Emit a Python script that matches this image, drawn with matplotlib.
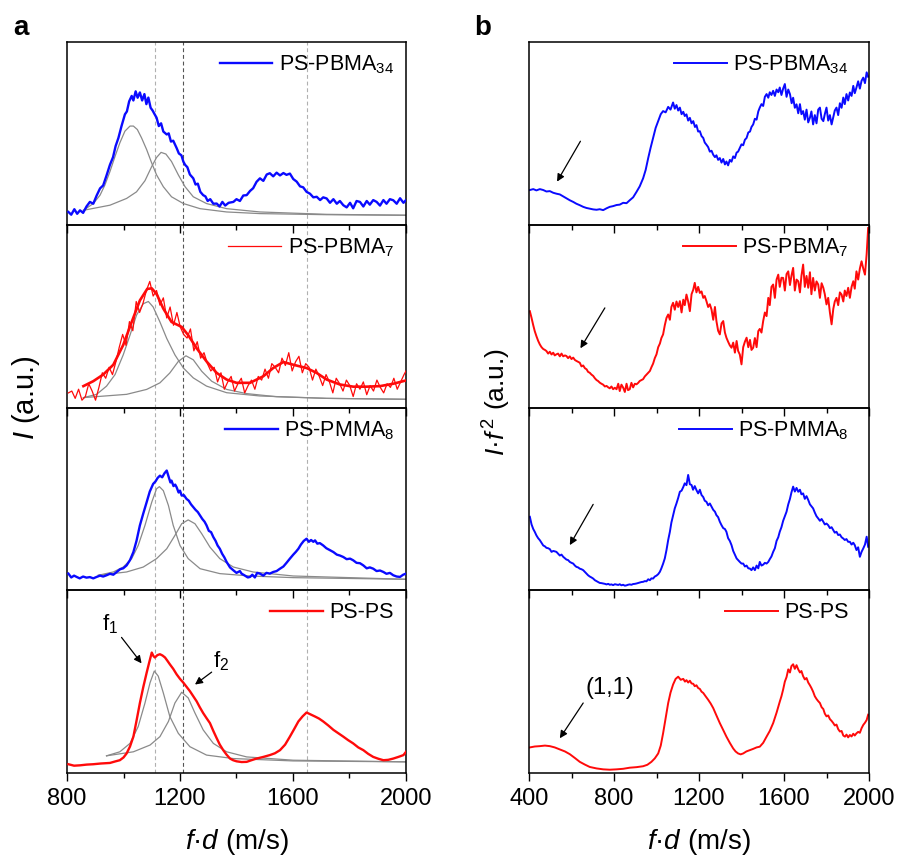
import matplotlib
matplotlib.use("Agg")
import matplotlib.pyplot as plt

plt.rcParams['font.family'] = ['Liberation Sans', 'DejaVu Sans']
plt.rcParams['mathtext.fontset'] = 'custom'
plt.rcParams['mathtext.rm'] = 'Liberation Sans'
plt.rcParams['mathtext.it'] = 'Liberation Sans:italic'
plt.rcParams['mathtext.bf'] = 'Liberation Sans:bold'

BLUE = '#0a0aff'
RED = '#ff0a0a'
GREY = '#8a8a8a'

# ---------------- (a) spectra I(f·d) with two-peak fits ----------------
labels_a = ['PS-PBMA$_{34}$', 'PS-PBMA$_{7}$', 'PS-PMMA$_{8}$', 'PS-PS']
colors_a = [BLUE, RED, BLUE, RED]
ref_lines = [1110, 1210, 1650]

# PS-PBMA34
a1_x = [805, 815, 826, 836, 846, 857, 869, 881, 893, 905, 917, 928, 940, 952, 963, 972, 982, 993, 1005, 1012,
        1020, 1029, 1035, 1043, 1050, 1058, 1066, 1074, 1081, 1088, 1096, 1103, 1110, 1117, 1125, 1133, 1141,
        1153, 1160, 1168, 1176, 1188, 1196, 1205, 1212, 1218, 1226, 1235, 1247, 1255, 1263, 1272, 1282, 1290,
        1298, 1307, 1318, 1330, 1340, 1350, 1360, 1372, 1389, 1400, 1412, 1424, 1436, 1448, 1459, 1471, 1483,
        1495, 1507, 1518, 1530, 1542, 1554, 1566, 1577, 1589, 1601, 1613, 1625, 1636, 1648, 1660, 1672, 1684,
        1696, 1707, 1719, 1731, 1743, 1755, 1766, 1778, 1790, 1802, 1813, 1825, 1837, 1849, 1861, 1872, 1884,
        1896, 1908, 1920, 1931, 1943, 1955, 1967, 1979, 1991, 2000]
a1_y = [7.0, 5.5, 8.5, 6.0, 7.9, 6.5, 10.0, 12.5, 11.5, 16.0, 19.9, 21.5, 27.0, 32.8, 37.0, 43.0, 47.5, 54.0, 60.4,
        62.0, 67.5, 70.5, 68.0, 73.0, 69.5, 72.4, 68.0, 71.5, 66.0, 69.6, 64.0, 62.5, 60.5, 58.6, 54.0, 55.5, 51.0,
        49.4, 50.0, 45.5, 46.0, 42.0, 39.0, 38.0, 34.5, 32.8, 31.5, 27.5, 25.4, 22.0, 22.5, 18.0, 16.2, 15.5, 13.0,
        14.0, 11.5, 11.6, 10.0, 12.5, 10.5, 12.0, 12.5, 14.0, 13.0, 16.0, 16.2, 18.5, 20.0, 23.5, 25.4, 24.0, 27.5,
        28.2, 26.5, 28.5, 27.0, 28.3, 27.3, 28.0, 25.0, 23.6, 21.0, 20.5, 18.0, 17.0, 15.0, 15.3, 13.5, 15.0, 14.4,
        12.0, 14.0, 11.5, 13.0, 10.7, 9.5, 12.0, 9.0, 13.0, 12.5, 10.0, 13.0, 11.0, 13.5, 12.5, 10.5, 13.5, 11.5,
        14.0, 13.4, 11.5, 14.5, 12.0, 13.5]
a1_f1_x = [858, 893, 917, 934, 952, 970, 987, 1005, 1023, 1035, 1049, 1064, 1082, 1100, 1117, 1141, 1170, 1212,
           1271, 1365, 1483, 1719, 2000]
a1_f1_y = [7.9, 11.6, 16.2, 21.7, 29.1, 37.4, 44.8, 51.2, 54.0, 54.0, 52.1, 47.5, 41.1, 33.7, 27.3, 20.8, 15.3,
           11.6, 8.8, 7.0, 6.1, 5.5, 5.2]
a1_f2_x = [858, 952, 1011, 1046, 1076, 1100, 1117, 1133, 1150, 1170, 1194, 1218, 1247, 1294, 1365, 1483, 1719, 2000]
a1_f2_y = [7.9, 10.7, 14.4, 18.0, 24.1, 31.9, 36.8, 39.6, 38.7, 34.6, 27.3, 20.8, 15.3, 11.6, 8.8, 7.0, 5.7, 5.2]

# PS-PBMA7: raw (thin) and smoothed (thick)
a2_raw_x = [805, 817, 829, 841, 853, 865, 877, 889, 901, 913, 925, 937, 949, 961, 973, 985, 997, 1009, 1021, 1033,
            1045, 1057, 1069, 1081, 1093, 1105, 1117, 1129, 1141, 1153, 1165, 1177, 1189, 1201, 1213, 1225, 1237,
            1249, 1261, 1273, 1285, 1297, 1309, 1321, 1333, 1345, 1357, 1369, 1381, 1393, 1405, 1417, 1429, 1441,
            1453, 1465, 1477, 1489, 1501, 1513, 1525, 1537, 1549, 1561, 1573, 1585, 1597, 1609, 1621, 1633, 1645,
            1657, 1669, 1681, 1693, 1705, 1717, 1729, 1741, 1753, 1765, 1777, 1789, 1801, 1813, 1825, 1837, 1849,
            1861, 1873, 1885, 1897, 1909, 1921, 1933, 1945, 1957, 1969, 1981, 1993, 2000]
a2_raw_y = [8, 9, 5, 10, 4, 6, 13, 9, 4, 11,
            19, 16, 22, 18, 25, 33, 40, 34, 47, 42,
            58, 52, 57, 64, 69, 61, 64, 56, 60, 49,
            55, 45, 52, 44, 40, 38, 43, 31, 36, 27,
            30, 24, 20, 22, 14, 19, 10, 14, 17, 9,
            13, 16, 8, 12, 15, 10, 17, 15, 21, 16,
            24, 22, 19, 27, 23, 30, 20, 25, 28, 19,
            24, 22, 15, 21, 17, 12, 18, 14, 8, 16,
            13, 9, 15, 12, 6, 13, 10, 14, 7, 12,
            9, 15, 11, 8, 13, 11, 16, 10, 14, 18,
            20]
a2_x = [858, 893, 928, 964, 999, 1029, 1058, 1084, 1100, 1117, 1141, 1170, 1206, 1229, 1259, 1294, 1330, 1365, 1400,
        1448, 1495, 1530, 1566, 1601, 1648, 1684, 1719, 1766, 1813, 1861, 1908, 1955, 2000]
a2_y = [11.7, 14.4, 18.0, 23.4, 34.2, 46.8, 58.6, 64.9, 65.2, 62.2, 54.1, 46.8, 44.1, 39.6, 32.4, 25.2, 18.9, 15.3,
        13.5, 13.5, 17.1, 21.6, 24.9, 23.4, 21.6, 18.9, 15.3, 12.6, 11.4, 11.4, 11.7, 13.0, 14.8]
a2_f1_x = [858, 905, 940, 970, 999, 1023, 1046, 1070, 1088, 1105, 1129, 1153, 1182, 1212, 1247, 1294, 1365, 1483, 1719,
           2000]
a2_f1_y = [5.4, 7.2, 11.7, 18.0, 28.8, 39.6, 50.5, 56.8, 58.0, 55.0, 46.8, 37.8, 28.8, 21.6, 16.2, 11.7, 8.1, 6.3, 5.0,
           4.5]
a2_f2_x = [858, 1011, 1082, 1129, 1164, 1194, 1221, 1247, 1277, 1312, 1365, 1436, 1542, 1719, 2000]
a2_f2_y = [5.4, 7.2, 9.9, 13.5, 18.9, 25.2, 28.3, 26.1, 19.8, 14.4, 9.9, 7.6, 5.9, 5.0, 4.5]

# PS-PMMA8
a3_x = [805, 815, 825, 834, 845, 857, 869, 881, 893, 905, 917, 928, 940, 952, 964, 976, 988, 999, 1011, 1023, 1035,
        1046, 1058, 1070, 1082, 1093, 1105, 1113, 1121, 1129, 1137, 1145, 1153, 1160, 1166, 1170, 1177, 1183, 1188,
        1195, 1200, 1206, 1214, 1223, 1231, 1239, 1247, 1255, 1263, 1271, 1279, 1287, 1294, 1302, 1310, 1318, 1326,
        1333, 1341, 1349, 1357, 1365, 1377, 1389, 1400, 1412, 1418, 1430, 1440, 1448, 1456, 1465, 1473, 1483, 1495,
        1506, 1518, 1530, 1542, 1554, 1566, 1577, 1589, 1601, 1610, 1619, 1628, 1638, 1648, 1656, 1664, 1672, 1678,
        1686, 1695, 1707, 1718, 1730, 1743, 1755, 1766, 1778, 1790, 1802, 1813, 1825, 1837, 1849, 1861, 1872, 1884,
        1896, 1908, 1920, 1931, 1943, 1955, 1967, 1979, 1990, 2000]
a3_y = [9.1, 7.0, 8.0, 7.3, 6.5, 7.5, 6.9, 7.2, 6.5, 7.3, 8.0, 7.5, 8.2, 9.0, 8.5, 10.0, 11.5, 12.0, 13.6, 16.5, 20.9,
        27.0, 35.5, 42.0, 48.2, 54.0, 58.2, 59.5, 61.5, 62.7, 61.8, 64.0, 65.5, 62.0, 59.0, 60.0, 57.0, 57.8, 56.4,
        53.5, 54.5, 51.8, 52.0, 50.0, 49.0, 47.0, 45.5, 44.0, 42.8, 40.9, 39.0, 37.5, 35.5, 32.5, 31.8, 29.1, 27.0,
        24.5, 22.7, 20.0, 18.0, 15.5, 12.5, 10.9, 9.5, 10.5, 9.1, 8.0, 7.0, 7.3, 8.5, 7.0, 9.5, 9.1, 8.0, 9.5, 9.1,
        10.0, 10.5, 11.8, 13.0, 15.0, 17.3, 19.5, 21.0, 22.7, 25.0, 27.0, 28.2, 26.5, 27.5, 26.5, 27.3, 25.5, 25.8,
        24.5, 23.0, 22.0, 20.9, 19.5, 19.0, 18.2, 17.0, 17.3, 16.4, 15.0, 14.8, 13.6, 12.0, 12.5, 11.8, 10.5, 10.8,
        10.0, 9.0, 9.5, 8.2, 7.5, 7.3, 8.5, 9.1]
a3_f1_x = [911, 964, 999, 1029, 1052, 1076, 1100, 1117, 1127, 1141, 1159, 1176, 1200, 1229, 1271, 1341, 1448, 1601,
           2000]
a3_f1_y = [8.2, 10.0, 12.7, 17.3, 24.5, 35.5, 48.2, 55.5, 56.7, 54.5, 46.4, 35.5, 24.5, 17.3, 11.8, 9.1, 7.8, 6.9, 6.0]
a3_f2_x = [911, 1011, 1070, 1117, 1153, 1182, 1206, 1229, 1253, 1277, 1306, 1341, 1389, 1459, 1601, 2000]
a3_f2_y = [8.2, 10.0, 12.7, 17.3, 22.7, 30.0, 36.4, 38.5, 36.4, 30.9, 23.6, 17.3, 12.7, 10.0, 7.8, 6.0]

# PS-PS
a4_x = [805, 825, 846, 870, 893, 920, 952, 970, 987, 1000, 1011, 1023, 1035, 1046, 1058, 1070, 1082, 1091, 1100,
        1106, 1111, 1120, 1129, 1138, 1147, 1155, 1164, 1176, 1188, 1200, 1212, 1224, 1235, 1247, 1259, 1270, 1282,
        1294, 1306, 1318, 1330, 1341, 1353, 1365, 1377, 1388, 1400, 1418, 1436, 1453, 1471, 1495, 1518, 1536, 1554,
        1572, 1589, 1604, 1619, 1634, 1648, 1663, 1678, 1692, 1707, 1725, 1743, 1760, 1778, 1795, 1813, 1831, 1849,
        1866, 1884, 1902, 1920, 1937, 1955, 1973, 1991, 2000]
a4_y = [4.8, 4.0, 4.2, 4.6, 4.8, 5.2, 5.5, 6.3, 7.0, 8.5, 10.7, 14.5, 19.9, 28.5, 38.3, 47.0, 54.9, 60.5, 65.9, 64.0,
        63.2, 64.5, 65.0, 64.3, 63.2, 61.5, 59.5, 57.0, 54.0, 51.5, 49.4, 47.0, 44.8, 42.0, 39.2, 36.0, 32.8, 30.0,
        27.3, 23.0, 19.0, 15.5, 12.5, 10.0, 7.9, 7.0, 6.4, 6.0, 6.1, 7.0, 7.9, 8.8, 9.8, 10.8, 12.5, 15.5, 19.9, 24.0,
        28.2, 31.0, 33.1, 32.0, 30.9, 29.8, 28.2, 26.0, 23.6, 21.8, 19.9, 18.0, 16.2, 14.0, 12.5, 10.5, 8.8, 7.8, 7.0,
        7.2, 7.9, 8.8, 9.8, 11.6]
a4_f1_x = [940, 987, 1023, 1052, 1076, 1094, 1109, 1123, 1141, 1164, 1194, 1235, 1294, 1389, 1601, 2000]
a4_f1_y = [9.4, 11.6, 16.2, 25.4, 38.3, 49.4, 55.8, 53.0, 43.8, 30.9, 21.7, 14.4, 9.8, 7.9, 6.6, 6.1]
a4_f2_x = [940, 1035, 1094, 1129, 1159, 1182, 1206, 1229, 1253, 1282, 1318, 1365, 1436, 1601, 2000]
a4_f2_y = [9.4, 11.6, 15.3, 19.9, 28.2, 38.3, 44.2, 41.1, 32.8, 23.6, 16.2, 11.6, 8.8, 7.0, 6.1]

# ---------------- (b) I·f² ----------------
labels_b = labels_a
colors_b = colors_a

b1_x = [404, 420, 435, 451, 467, 482, 498, 514, 529, 545, 561, 576, 592, 608, 623, 639, 655, 670, 686, 702, 718, 733,
        749, 765, 780, 796, 812, 827, 843, 859, 874, 890, 906, 921, 937, 949, 961, 972, 984, 996, 1008, 1020, 1031,
        1043, 1055, 1066, 1078, 1086, 1094, 1102, 1110, 1118, 1126, 1133, 1141, 1149, 1157, 1165, 1173, 1181, 1188,
        1196, 1204, 1212, 1220, 1227, 1235, 1243, 1251, 1259, 1267, 1275, 1282, 1290, 1298, 1306, 1314, 1322, 1329,
        1337, 1345, 1353, 1361, 1369, 1377, 1384, 1392, 1400, 1408, 1416, 1424, 1432, 1440, 1447, 1455, 1463, 1471,
        1479, 1486, 1494, 1502, 1510, 1518, 1526, 1533, 1541, 1549, 1557, 1565, 1573, 1580, 1588, 1596, 1604, 1612,
        1620, 1628, 1636, 1643, 1651, 1659, 1667, 1675, 1682, 1690, 1698, 1706, 1714, 1722, 1729, 1737, 1745, 1753,
        1761, 1769, 1777, 1785, 1792, 1800, 1808, 1816, 1824, 1832, 1839, 1847, 1855, 1863, 1871, 1879, 1886, 1894,
        1902, 1910, 1918, 1926, 1933, 1941, 1949, 1957, 1965, 1973, 1981, 1989, 1996]
b1_y = [19.0, 19.5, 18.8, 19.5, 19.0, 18.2, 18.4, 17.5, 17.0, 16.6, 15.5, 14.5, 13.4, 12.5, 11.5, 10.7, 9.8, 9.2, 8.8,
        8.4, 8.2, 8.5, 8.0, 9.0, 9.8, 10.2, 10.8, 11.0, 12.0, 11.8, 13.4, 15.0, 18.0, 21.0, 25.4, 30.0, 36.5, 42.0,
        47.5, 53.0, 56.7, 60.5, 62.2, 61.5, 64.5, 63.0, 66.9, 63.5, 65.5, 62.5, 64.1, 60.5, 61.8, 59.5, 60.4, 57.0,
        58.5, 55.5, 56.7, 53.5, 54.5, 51.0, 51.2, 48.5, 47.5, 45.0, 43.8, 42.5, 40.0, 40.5, 38.3, 37.0, 38.0, 35.5,
        36.5, 34.0, 36.0, 33.0, 34.6, 32.5, 35.5, 34.5, 37.4, 36.5, 39.5, 40.0, 42.0, 44.0, 43.5, 46.5, 47.5, 50.5,
        51.0, 53.5, 54.9, 58.0, 57.5, 62.0, 64.1, 66.0, 65.0, 70.0, 71.5, 69.5, 72.5, 71.0, 73.3, 70.5, 74.0, 72.5,
        75.1, 71.0, 74.5, 77.0, 70.0, 74.0, 71.5, 66.5, 69.5, 64.0, 65.9, 61.0, 66.0, 60.5, 62.2, 57.5, 63.0, 56.0,
        58.6, 62.0, 54.9, 60.0, 55.5, 63.0, 64.1, 58.0, 56.7, 60.5, 64.1, 57.0, 60.0, 54.9, 59.0, 62.5, 64.1, 60.0,
        66.5, 64.0, 69.6, 66.0, 71.5, 68.0, 72.4, 70.5, 76.0, 72.0, 75.1, 78.5, 74.5, 78.8, 80.5, 77.5, 83.4, 81.0]

b2_x = [404, 412, 420, 427, 435, 443, 451, 459, 467, 475, 482, 490, 498, 506, 514, 521, 529, 537, 545, 553, 561, 569,
        576, 584, 592, 600, 608, 616, 623, 631, 639, 647, 655, 663, 671, 678, 686, 694, 702, 710, 718, 725, 733, 741,
        749, 757, 765, 773, 780, 788, 796, 804, 812, 820, 827, 835, 843, 851, 859, 866, 874, 882, 890, 898, 906, 914,
        921, 929, 937, 945, 953, 961, 969, 976, 984, 992, 1000, 1008, 1016, 1023, 1031, 1039, 1047, 1055, 1063, 1070,
        1078, 1086, 1094, 1102, 1110, 1118, 1126, 1133, 1141, 1149, 1157, 1165, 1173, 1180, 1188, 1196, 1204, 1212,
        1220, 1227, 1235, 1243, 1251, 1259, 1267, 1275, 1282, 1290, 1298, 1306, 1314, 1322, 1329, 1337, 1345, 1353,
        1361, 1369, 1377, 1384, 1392, 1400, 1408, 1416, 1424, 1432, 1440, 1447, 1455, 1463, 1471, 1479, 1486, 1494,
        1502, 1510, 1518, 1526, 1533, 1541, 1549, 1557, 1565, 1573, 1580, 1588, 1596, 1604, 1612, 1620, 1628, 1635,
        1643, 1651, 1659, 1667, 1675, 1682, 1690, 1698, 1706, 1714, 1722, 1729, 1737, 1745, 1753, 1761, 1769, 1777,
        1785, 1792, 1800, 1808, 1816, 1824, 1832, 1839, 1847, 1855, 1863, 1871, 1879, 1886, 1894, 1902, 1910, 1918,
        1926, 1933, 1941, 1949, 1957, 1965, 1973, 1981, 1989, 1996]
b2_y = [52.7, 49.0, 45.0, 41.8, 39.0, 36.5, 34.5, 33.0, 32.0, 31.5, 30.9, 29.5, 30.5, 29.0, 30.0, 28.5, 29.1, 29.5,
        28.0, 29.5, 28.0, 28.5, 28.2, 27.0, 28.0, 26.5, 27.3, 26.0, 25.5, 25.0, 24.5, 22.5, 23.0, 21.5, 20.9, 19.5,
        19.0, 18.0, 17.3, 16.0, 15.0, 14.5, 13.6, 13.0, 12.5, 11.5, 11.8, 11.0, 10.5, 11.5, 10.0, 10.8, 10.0, 13.0,
        9.0, 12.5, 10.9, 8.5, 13.0, 9.5, 10.0, 13.5, 11.0, 13.0, 12.7, 13.5, 14.5, 15.0, 15.5, 17.0, 18.0, 19.0, 20.0,
        22.0, 24.0, 27.0, 29.1, 33.0, 35.0, 38.0, 40.0, 45.0, 49.0, 50.9, 48.0, 55.0, 57.3, 53.5, 58.0, 55.0, 58.2,
        52.0, 59.0, 56.0, 61.8, 58.0, 52.7, 62.0, 64.5, 68.2, 63.0, 66.0, 62.7, 63.5, 60.0, 61.0, 58.2, 55.0, 56.5,
        53.6, 48.0, 55.0, 47.3, 42.0, 40.0, 46.0, 47.3, 41.0, 38.2, 36.0, 34.0, 32.7, 35.5, 30.0, 36.4, 31.0, 29.0,
        23.6, 33.0, 36.0, 38.2, 33.0, 37.0, 31.5, 32.7, 38.0, 33.0, 41.8, 43.0, 41.0, 47.3, 52.0, 50.0, 60.0, 56.0,
        66.0, 67.3, 60.0, 70.0, 72.7, 66.0, 71.0, 70.9, 64.0, 73.0, 74.5, 67.0, 72.0, 76.4, 64.0, 70.0, 69.1, 63.0,
        72.0, 78.2, 66.0, 72.0, 65.5, 74.0, 62.0, 70.9, 64.0, 69.0, 67.3, 60.0, 68.0, 65.5, 62.0, 56.4, 60.0, 52.0,
        45.5, 54.0, 58.0, 60.0, 56.0, 63.0, 61.8, 58.0, 64.0, 61.0, 65.5, 60.0, 66.0, 69.1, 65.0, 74.5, 70.0, 76.0,
        80.0, 76.0, 72.7, 84.0, 98.2]

b3_x = [404, 412, 420, 427, 435, 443, 451, 459, 467, 475, 482, 490, 498, 506, 514, 521, 529, 537, 545, 553, 561, 569,
        576, 584, 592, 600, 608, 616, 623, 631, 639, 647, 655, 663, 671, 678, 686, 694, 702, 710, 718, 725, 733, 741,
        749, 757, 765, 773, 780, 788, 796, 804, 812, 820, 827, 835, 843, 851, 859, 866, 874, 882, 890, 898, 906, 914,
        921, 929, 937, 945, 953, 961, 969, 976, 984, 992, 1000, 1008, 1016, 1023, 1031, 1039, 1047, 1055, 1063, 1070,
        1078, 1086, 1094, 1102, 1110, 1118, 1126, 1133, 1141, 1149, 1157, 1165, 1172, 1180, 1188, 1196, 1204, 1212,
        1220, 1227, 1235, 1243, 1251, 1259, 1267, 1275, 1282, 1290, 1298, 1306, 1314, 1322, 1329, 1337, 1345, 1353,
        1361, 1369, 1377, 1384, 1392, 1400, 1408, 1416, 1424, 1432, 1439, 1447, 1455, 1463, 1471, 1479, 1486, 1494,
        1502, 1510, 1518, 1526, 1533, 1541, 1549, 1557, 1565, 1573, 1580, 1588, 1596, 1604, 1612, 1620, 1628, 1635,
        1643, 1651, 1659, 1667, 1675, 1682, 1690, 1698, 1706, 1714, 1722, 1729, 1737, 1745, 1753, 1761, 1769, 1777,
        1785, 1792, 1800, 1808, 1816, 1824, 1832, 1839, 1847, 1855, 1863, 1871, 1879, 1886, 1894, 1902, 1910, 1918,
        1926, 1933, 1941, 1949, 1957, 1965, 1973, 1981, 1989, 1996]
b3_y = [40.2, 36.0, 33.5, 32.0, 30.0, 28.5, 27.4, 26.0, 24.5, 24.0, 23.2, 23.0, 22.5, 21.0, 21.5, 21.3, 21.0, 20.0,
        19.0, 19.5, 18.3, 17.5, 16.8, 16.5, 15.5, 15.0, 14.6, 13.5, 12.8, 12.5, 11.8, 11.5, 11.0, 10.0, 9.0, 8.2, 7.5,
        7.0, 6.4, 5.5, 5.0, 4.5, 4.0, 3.9, 3.7, 3.5, 3.2, 3.5, 3.0, 3.2, 2.8, 3.3, 3.1, 2.9, 3.3, 2.7, 3.0, 2.5, 2.7,
        3.0, 3.2, 3.0, 3.4, 3.5, 3.7, 4.0, 4.2, 4.5, 4.6, 5.0, 4.9, 6.0, 5.5, 6.5, 6.4, 7.5, 8.0, 8.8, 10.1, 12.0,
        14.5, 17.4, 22.0, 27.5, 32.0, 37.0, 41.0, 44.8, 47.5, 50.5, 53.9, 54.5, 56.5, 58.5, 57.5, 63.1, 58.0, 57.6,
        55.0, 57.0, 54.8, 53.0, 55.0, 52.1, 51.0, 49.0, 48.4, 46.5, 47.5, 45.7, 44.0, 43.0, 41.1, 40.0, 37.5, 35.6,
        34.0, 33.5, 32.0, 28.5, 27.0, 24.7, 21.5, 19.5, 17.4, 16.5, 15.5, 14.6, 14.6, 13.0, 13.5, 12.0, 11.9, 11.0,
        12.5, 11.0, 13.5, 12.0, 15.5, 13.5, 14.0, 15.0, 14.6, 15.5, 17.0, 18.5, 21.0, 23.0, 27.0, 29.0, 32.0, 34.5,
        38.0, 40.5, 43.0, 47.0, 50.0, 53.5, 56.7, 54.0, 56.0, 53.9, 55.0, 52.5, 53.0, 50.0, 51.5, 49.4, 47.0, 46.0,
        44.8, 42.5, 40.5, 39.3, 38.0, 39.0, 37.5, 36.0, 36.5, 35.6, 34.0, 34.5, 32.9, 31.5, 32.0, 30.2, 30.5, 29.0,
        28.3, 27.5, 28.0, 26.5, 26.5, 25.0, 26.0, 24.7, 22.0, 23.5, 18.3, 21.0, 22.9, 25.0, 29.3, 23.8]

b4_x = [404, 427, 451, 475, 498, 521, 545, 569, 592, 616, 639, 663, 686, 718, 749, 780, 812, 843, 874, 906, 937, 957,
        976, 992, 1008, 1020, 1031, 1043, 1055, 1066, 1078, 1090, 1102, 1114, 1126, 1134, 1141, 1149, 1157, 1165,
        1173, 1180, 1188, 1196, 1204, 1212, 1220, 1231, 1243, 1255, 1267, 1282, 1298, 1314, 1329, 1345, 1361, 1372,
        1384, 1396, 1408, 1423, 1439, 1455, 1471, 1486, 1502, 1518, 1533, 1549, 1565, 1580, 1588, 1596, 1604, 1612,
        1620, 1628, 1635, 1643, 1651, 1659, 1667, 1675, 1682, 1690, 1698, 1706, 1714, 1722, 1729, 1737, 1745, 1753,
        1761, 1769, 1777, 1785, 1792, 1800, 1808, 1816, 1824, 1832, 1839, 1847, 1855, 1863, 1871, 1879, 1887, 1894,
        1902, 1910, 1918, 1926, 1933, 1941, 1949, 1957, 1965, 1973, 1981, 1989, 1996]
b4_y = [14.0, 14.5, 14.7, 15.0, 14.7, 14.0, 12.9, 11.8, 10.3, 8.2, 6.1, 4.6, 3.3, 2.5, 2.0, 1.8, 2.0, 2.3, 2.9, 3.2,
        3.7, 4.5,
        6.1, 8.0, 10.7, 15.0, 21.7, 30.0, 38.3, 44.0, 48.4, 51.5, 52.7, 51.0, 51.5, 50.0, 50.8, 49.5, 50.5, 49.0,
        48.8, 47.5, 48.0, 46.5, 46.0, 44.5, 43.8, 42.0, 40.1, 38.0, 35.5, 31.5, 27.3, 23.5, 19.9, 16.5, 13.4, 11.8,
        10.7, 10.2, 10.7, 11.8, 12.5, 13.2, 14.0, 14.4, 16.5, 19.9, 23.0, 27.3, 33.0, 39.0, 42.0, 45.7, 50.0, 52.5,
        56.7, 55.0, 58.5, 59.5, 57.0, 59.0, 56.7, 55.0, 55.8, 53.0, 51.2, 52.0, 49.5, 48.0, 46.5, 44.5, 42.0, 40.5,
        39.3, 38.3, 36.0, 35.0, 32.5, 31.0, 31.5, 29.5, 28.5, 27.3, 26.0, 26.5, 24.0, 22.7, 23.0, 20.5, 19.9, 21.0,
        19.5, 20.8, 20.0, 21.5, 20.5, 21.7, 22.5, 22.0, 24.5, 26.3, 27.5, 29.0, 31.9]

# ---------------- layout ----------------
W, H = 900, 859
fig = plt.figure(figsize=(W / 100, H / 100), dpi=100)
top_px, bot_px = 42, 773
ph = (bot_px - top_px) / 4


def panel_axes(left_px, right_px, i):
    # i = 0 is the top panel of the stack
    bottom_px = top_px + (i + 1) * ph
    return fig.add_axes([left_px / W, 1 - bottom_px / H, (right_px - left_px) / W, ph / H])


def style(ax, xlim, major, minor, last):
    ax.patch.set_visible(False)
    ax.set_xlim(*xlim)
    ax.set_ylim(0, 100)
    ax.set_yticks([])
    ax.set_xticks(major)
    ax.set_xticks(minor, minor=True)
    ax.tick_params(axis='x', which='major', direction='out', length=6, width=1.0, top=False,
                   labelsize=17, pad=5, labelbottom=last)
    ax.tick_params(axis='x', which='minor', direction='out', length=3.5, width=1.0, top=False)
    for s in ax.spines.values():
        s.set_linewidth(1.1)


legend_kw = dict(loc='upper right', frameon=False, fontsize=15.5, handlelength=2.45,
                 handletextpad=0.3, borderaxespad=0.25, borderpad=0.3)

data_a = [
    (a1_x, a1_y, None, None, a1_f1_x, a1_f1_y, a1_f2_x, a1_f2_y),
    (a2_x, a2_y, a2_raw_x, a2_raw_y, a2_f1_x, a2_f1_y, a2_f2_x, a2_f2_y),
    (a3_x, a3_y, None, None, a3_f1_x, a3_f1_y, a3_f2_x, a3_f2_y),
    (a4_x, a4_y, None, None, a4_f1_x, a4_f1_y, a4_f2_x, a4_f2_y),
]

axes_a = []
for i, (mx, my, rx, ry, f1x, f1y, f2x, f2y) in enumerate(data_a):
    ax = panel_axes(67, 406, i)
    axes_a.append(ax)
    style(ax, (800, 2000), [800, 1200, 1600, 2000], [1000, 1400, 1800], i == 3)
    ax.axvline(ref_lines[0], color='#b0b0b0', ls=(0, (3.5, 2.5)), lw=0.8, zorder=1)
    ax.axvline(ref_lines[1], color='#555555', ls=(0, (3.5, 2.5)), lw=0.8, zorder=1)
    ax.axvline(ref_lines[2], color='#b0b0b0', ls=(0, (3.5, 2.5)), lw=0.8, zorder=1)
    ax.plot(f1x, f1y, color=GREY, lw=0.9, zorder=2)
    ax.plot(f2x, f2y, color=GREY, lw=0.9, zorder=2)
    if rx is not None:
        ax.plot(rx, ry, color=colors_a[i], lw=0.9, zorder=3, label=labels_a[i])
        ax.plot(mx, my, color=colors_a[i], lw=1.9, zorder=4)
    else:
        ax.plot(mx, my, color=colors_a[i], lw=1.7, zorder=4, label=labels_a[i])
    ax.legend(**legend_kw)

axes_a[3].set_xlabel(r'$\it{f}$·$\it{d}$ (m/s)', fontsize=20, labelpad=12)

# peak markers on the PS-PS spectrum
ax = axes_a[3]
arrow = dict(arrowstyle='-|>', color='black', lw=0.9, mutation_scale=11, shrinkA=0, shrinkB=0)
ax.annotate('', xy=(1064, 60.0), xytext=(993, 74.2), arrowprops=arrow)
ax.annotate('', xy=(1253, 48.4), xytext=(1312, 55.2), arrowprops=arrow)
ax.text(952, 81.6, 'f$_1$', fontsize=16, ha='center', va='center')
ax.text(1345, 61.3, 'f$_2$', fontsize=16, ha='center', va='center')

data_b = [(b1_x, b1_y), (b2_x, b2_y), (b3_x, b3_y), (b4_x, b4_y)]
b_arrows = [((642, 45.7), (532, 23.6)), ((757, 54.5), (642, 32.4)),
            ((702, 47.0), (592, 24.7)), ((655, 38.3), (545, 19.0))]
legend_kw_b = dict(legend_kw)
legend_kw_b['bbox_to_anchor'] = (0.975, 1.0)
axes_b = []
for i, (bx, by) in enumerate(data_b):
    ax = panel_axes(529, 869, i)
    axes_b.append(ax)
    style(ax, (400, 2000), [400, 800, 1200, 1600, 2000], [600, 1000, 1400, 1800], i == 3)
    ax.plot(bx, by, color=colors_b[i], lw=1.4, label=labels_b[i])
    ax.legend(**legend_kw_b)
    (x0, y0), (x1, y1) = b_arrows[i]
    ax.annotate('', xy=(x1, y1), xytext=(x0, y0), arrowprops=arrow)

axes_b[3].text(780, 46.6, '(1,1)', fontsize=17, ha='center', va='center')
axes_b[3].set_xlabel(r'$\it{f}$·$\it{d}$ (m/s)', fontsize=20, labelpad=12)

fig.text(26 / W, 1 - 398 / H, r'$\it{I}$ (a.u.)', rotation=90, fontsize=21, ha='center', va='center')
fig.text(497 / W, 1 - 402 / H, r'$\it{I}$·$\it{f}^{\,2}$ (a.u.)', rotation=90, fontsize=19,
         ha='center', va='center')

fig.text(21 / W, 1 - 28 / H, 'a', fontsize=20, fontweight='bold', ha='center', va='center')
fig.text(483 / W, 1 - 28 / H, 'b', fontsize=20, fontweight='bold', ha='center', va='center')

fig.savefig('out.png', dpi=100)
